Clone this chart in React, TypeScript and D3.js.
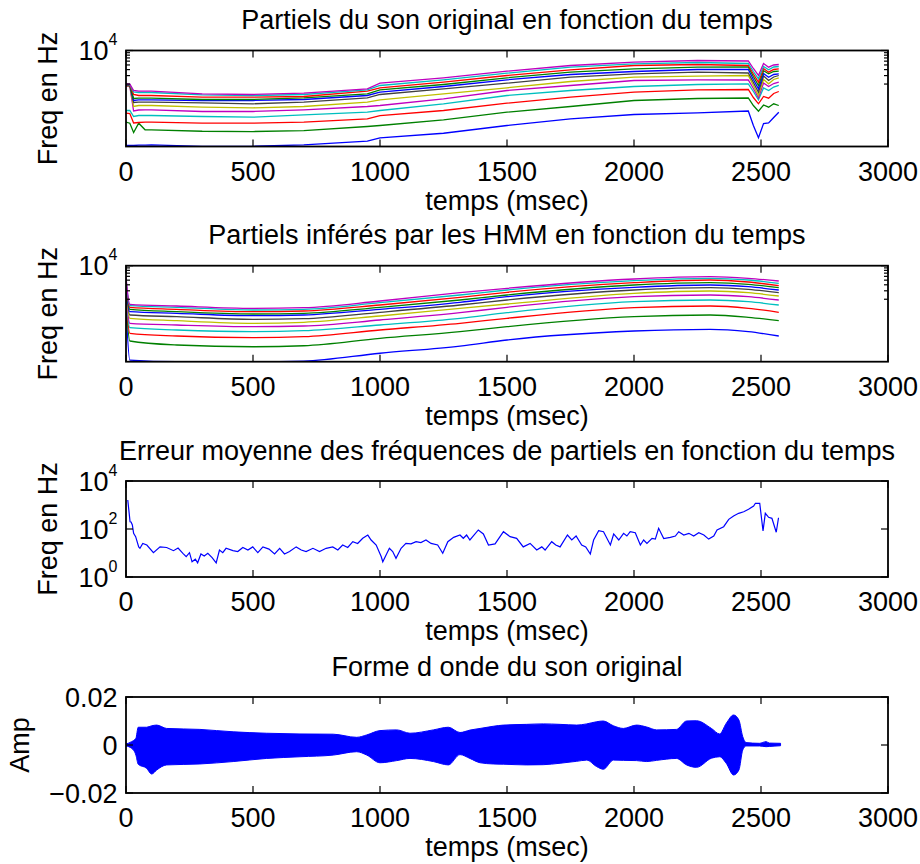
import React, { useEffect, useRef } from "react";
import * as d3 from "d3";

// ---- shared axes ----
const X_TICKS = [0, 500, 1000, 1500, 2000, 2500, 3000];
const FREQ_MINOR_TICKS = [2000, 3000, 4000, 5000, 6000, 7000, 8000, 9000];
const ERR_MAJOR_TICKS = [1, 100, 10000];
const AMP_TICKS = [-0.02, 0, 0.02];
const AMP_TICK_LABELS = ["\u22120.02", "0", "0.02"];

const TITLES = [
  "Partiels du son original en fonction du temps",
  "Partiels inférés par les HMM en fonction du temps",
  "Erreur moyenne des fréquences de partiels en fonction du temps",
  "Forme d onde du son original",
];
const Y_LABELS = ["Freq en Hz", "Freq en Hz", "Freq en Hz", "Amp"];
const X_LABEL = "temps (msec)";

// matlab default colour order
const LINE_COLORS = ["#0000ff", "#008000", "#ff0000", "#00bfbf", "#bf00bf", "#bfbf00", "#404040"];

// ---- panel 1 : partials of the original sound (Hz) ----
const T_ORIG = [0, 15, 30, 50, 75, 100, 300, 500, 700, 950, 1000, 1250, 1500, 1750, 2000, 2250, 2450, 2470, 2490, 2510, 2530, 2550, 2570];
const ORIG_1 = [105, 105, 105, 107, 107, 108, 101, 101, 108, 129, 152, 189, 274, 378, 464, 504, 549, 274, 152, 301, 309, 402, 518];
const ORIG_2 = [321, 306, 196, 306, 223, 223, 208, 205, 215, 261, 274, 360, 518, 681, 909, 1000, 1024, 715, 544, 732, 659, 776, 715];
const ORIG_3 = [494, 487, 309, 316, 321, 321, 306, 306, 321, 378, 442, 562, 798, 1064, 1353, 1518, 1540, 1049, 776, 1101, 1015, 1271, 1399];
const ORIG_4 = [562, 562, 422, 442, 442, 442, 422, 408, 458, 518, 562, 776, 1155, 1468, 1778, 1957, 2024, 1399, 940, 1655, 1468, 1736, 1866];
const ORIG_5 = [1821, 1778, 549, 576, 582, 582, 536, 536, 582, 681, 715, 986, 1468, 1866, 2371, 2452, 2429, 1616, 1034, 2104, 1778, 2054, 2185];
const ORIG_6 = [1866, 1821, 681, 715, 715, 715, 659, 640, 681, 837, 940, 1253, 1671, 2260, 2778, 2915, 3014, 1866, 1155, 2488, 2024, 2488, 2699];
const ORIG_7 = [1884, 1866, 825, 837, 837, 837, 814, 776, 837, 1034, 1212, 1593, 2084, 2778, 3270, 3532, 3399, 2154, 1353, 2943, 2371, 2805, 3014];
const ORIG_8 = [1911, 1893, 909, 940, 940, 940, 909, 909, 953, 1155, 1353, 1778, 2452, 3162, 3652, 4019, 4019, 2488, 1593, 3318, 2778, 3162, 3270];
const ORIG_9 = [1940, 1911, 1000, 1015, 1015, 1015, 953, 953, 1034, 1253, 1518, 1957, 2699, 3532, 4156, 4488, 4532, 2873, 1866, 3777, 3270, 3652, 3705];
const ORIG_10 = [1957, 1940, 1212, 1155, 1155, 1155, 1064, 1064, 1101, 1419, 1671, 2185, 3014, 3962, 4870, 5109, 4870, 3239, 2185, 4217, 3532, 4019, 4156];
const ORIG_11 = [1976, 1957, 1366, 1334, 1334, 1334, 1195, 1155, 1212, 1518, 1866, 2452, 3366, 4488, 5284, 5623, 5360, 3652, 2573, 4642, 3962, 4532, 4642];
const ORIG_12 = [2005, 1985, 1468, 1419, 1419, 1419, 1253, 1212, 1289, 1593, 2084, 2699, 3705, 4870, 5705, 6190, 6043, 4217, 3014, 5360, 4488, 4988, 5109];
const ORIG = [ORIG_1, ORIG_2, ORIG_3, ORIG_4, ORIG_5, ORIG_6, ORIG_7, ORIG_8, ORIG_9, ORIG_10, ORIG_11, ORIG_12];

// ---- panel 2 : partials inferred by the HMM (Hz) ----
const T_HMM = [0, 15, 200, 500, 700, 1000, 1315, 1500, 2000, 2300, 2450, 2570];
const HMM_1 = [1380, 108, 100, 100, 103, 150, 212, 283, 436, 473, 422, 343];
const HMM_2 = [1753, 270, 223, 205, 215, 307, 422, 536, 866, 940, 841, 715];
const HMM_3 = [2124, 391, 343, 316, 332, 458, 631, 802, 1334, 1447, 1296, 1069];
const HMM_4 = [2452, 511, 458, 422, 442, 582, 802, 1049, 1778, 1930, 1778, 1518];
const HMM_5 = [2832, 631, 582, 536, 554, 739, 1049, 1360, 2260, 2452, 2260, 1930];
const HMM_6 = [3270, 802, 715, 631, 662, 896, 1296, 1593, 2661, 2971, 2738, 2337];
const HMM_7 = [3600, 940, 866, 764, 787, 1069, 1518, 1930, 3117, 3481, 3223, 2738];
const HMM_8 = [3962, 1101, 1019, 909, 940, 1236, 1728, 2260, 3549, 3962, 3652, 3117];
const HMM_9 = [4361, 1236, 1101, 986, 1019, 1360, 1930, 2452, 3962, 4424, 4097, 3481];
const HMM_10 = [4801, 1360, 1236, 1101, 1139, 1518, 2196, 2791, 4424, 5037, 4575, 3831];
const HMM_11 = [5284, 1468, 1360, 1195, 1236, 1695, 2452, 3117, 4870, 5464, 5037, 4299];
const HMM_12 = [5815, 1571, 1447, 1296, 1334, 1839, 2738, 3382, 5284, 5900, 5464, 4801];
const HMM = [HMM_1, HMM_2, HMM_3, HMM_4, HMM_5, HMM_6, HMM_7, HMM_8, HMM_9, HMM_10, HMM_11, HMM_12];

// ---- panel 3 : mean error [t, Hz] ----
const ERR_POINTS: [number, number][] = [
  [7, 1620], [16, 200], [20, 195], [25, 147], [30, 66], [38, 48], [50, 18], [55, 15.7], [66, 25], [82, 21.5],
  [108, 10.3], [134, 18], [160, 17], [187, 12.5], [205, 16], [224, 9.7], [237, 7], [250, 10.3], [260, 4.3], [273, 5.5],
  [282, 3.9], [295, 9.1], [308, 7.5], [322, 9.7], [339, 6.4], [355, 3.9], [368, 13.3], [381, 10.3], [394, 15.7], [421, 12.5],
  [440, 11.5], [460, 17], [480, 13.3], [499, 18], [519, 10.3], [539, 18], [563, 14.5], [585, 9.1], [605, 15.7], [624, 9.1],
  [644, 11.5], [670, 18], [690, 13.3], [709, 11.5], [736, 15.7], [762, 11.5], [788, 15.7], [814, 18], [834, 13.3], [853, 21.5],
  [873, 17], [893, 29.6], [912, 25], [932, 41], [952, 56], [965, 34.8], [985, 21.5], [1005, 7], [1011, 4.3], [1024, 8.2],
  [1037, 15.7], [1050, 11.5], [1063, 6], [1083, 15.7], [1102, 25], [1122, 24], [1142, 29.6], [1161, 27], [1181, 34.8], [1201, 25],
  [1227, 21.5], [1247, 9.7], [1267, 29.6], [1290, 45], [1315, 56], [1328, 41], [1341, 56], [1354, 34.8], [1387, 91], [1407, 62],
  [1427, 21.5], [1453, 24], [1486, 77], [1512, 48], [1538, 41], [1564, 18], [1591, 25], [1617, 13.3], [1637, 18], [1650, 13.3],
  [1676, 29.6], [1692, 21.5], [1709, 18], [1738, 56], [1755, 34.8], [1772, 51], [1794, 21.5], [1810, 18], [1828, 9.1], [1841, 34.8],
  [1861, 85], [1880, 77], [1907, 21.5], [1920, 62], [1940, 34.8], [1959, 66], [1972, 51], [1985, 77], [2005, 70], [2025, 21.5],
  [2038, 34.8], [2051, 25], [2071, 41], [2084, 38], [2097, 107], [2117, 40], [2143, 45], [2163, 51], [2176, 77], [2196, 56],
  [2216, 66], [2235, 51], [2255, 70], [2275, 56], [2294, 38], [2314, 51], [2327, 91], [2353, 125], [2373, 253], [2392, 350],
  [2412, 450], [2432, 525], [2451, 660], [2471, 910], [2478, 1180], [2495, 1180], [2508, 83], [2517, 450], [2530, 306], [2543, 279],
  [2560, 73], [2569, 295],
];

// ---- panel 4 : waveform envelope [t, upper, lower] ----
const WAVE_ENVELOPE: [number, number, number][] = [
  [0, 0.0004, -0.0004], [22, 0.0014, -0.0014], [39, 0.0028, -0.0042], [48, 0.0074, -0.008], [81, 0.0074, -0.0097],
  [101, 0.008, -0.0121], [121, 0.0083, -0.0104], [160, 0.0069, -0.0083], [291, 0.0065, -0.0079], [422, 0.0055, -0.0069],
  [553, 0.0049, -0.0056], [685, 0.0046, -0.0049], [816, 0.0045, -0.0042], [908, 0.0032, -0.0028], [948, 0.0042, -0.0042],
  [1000, 0.006, -0.0074], [1066, 0.0063, -0.0065], [1118, 0.0049, -0.0056], [1210, 0.0063, -0.0069], [1269, 0.0074, -0.0083],
  [1315, 0.0052, -0.004], [1354, 0.0062, -0.0056], [1394, 0.0069, -0.0074], [1446, 0.0078, -0.0079], [1486, 0.0083, -0.008],
  [1577, 0.0086, -0.0083], [1643, 0.0088, -0.0082], [1709, 0.0086, -0.0076], [1774, 0.0083, -0.0068], [1814, 0.0088, -0.0063],
  [1853, 0.0097, -0.009], [1879, 0.01, -0.0101], [1919, 0.008, -0.0063], [1958, 0.0069, -0.0064], [2010, 0.0083, -0.0065],
  [2050, 0.0075, -0.0069], [2089, 0.0063, -0.0064], [2167, 0.0065, -0.0056], [2207, 0.01, -0.0083], [2246, 0.0101, -0.0093],
  [2305, 0.0069, -0.0055], [2337, 0.0046, -0.0049], [2363, 0.009, -0.0076], [2392, 0.0125, -0.0125], [2413, 0.0104, -0.0104],
  [2428, 0.0035, -0.0021], [2441, 0.001, -0.0004], [2494, 0.0007, -0.0004], [2520, 0.0014, -0.0007], [2533, 0.0008, -0.0006],
  [2577, 0.0007, -0.0003],
];

const FONT = '"Liberation Sans", Arial, Helvetica, sans-serif';
const X_LEFT = 126;
const X_RIGHT = 888;
const PANEL_H = 96;
const PANEL_TOPS = [50.5, 265.7, 481, 697];

const App = () => {
  const svgRef = useRef<SVGSVGElement>(null);

  useEffect(() => {
    const svg = d3.select(svgRef.current);
    svg.selectAll("*").remove();
    svg.append("rect").attr("width", 920).attr("height", 864).attr("fill", "#fff");

    const x = d3.scaleLinear().domain([0, 3000]).range([X_LEFT, X_RIGHT]);

    const addText = (sel: any, tx: number, ty: number, txt: string, anchor = "middle", size = 27) =>
      sel
        .append("text")
        .attr("x", tx)
        .attr("y", ty)
        .attr("text-anchor", anchor)
        .style("font-family", FONT)
        .style("font-size", size + "px")
        .attr("fill", "#000")
        .text(txt);

    // power of ten label, e.g. 10^4
    const addPow = (sel: any, ty: number, exp: number) => {
      const t = sel
        .append("text")
        .attr("x", 117.5)
        .attr("y", ty + 9.5)
        .attr("text-anchor", "end")
        .style("font-family", FONT)
        .style("font-size", "27px");
      t.append("tspan").text("10");
      t.append("tspan").attr("dy", -15).style("font-size", "16px").text(String(exp));
    };

    const frame = (i: number, y: any, yMajor: number[], yMinor: number[]) => {
      const top = PANEL_TOPS[i];
      const bottom = top + PANEL_H;
      const g = svg.append("g");

      // x ticks (inside, top and bottom)
      X_TICKS.forEach((v) => {
        const px = x(v);
        g.append("line").attr("x1", px).attr("x2", px).attr("y1", bottom).attr("y2", bottom - 7);
        g.append("line").attr("x1", px).attr("x2", px).attr("y1", top).attr("y2", top + 7);
        addText(svg, px, bottom + 34, String(v));
      });
      yMajor.forEach((v) => {
        const py = y(v);
        g.append("line").attr("x1", X_LEFT).attr("x2", X_LEFT + 7).attr("y1", py).attr("y2", py);
        g.append("line").attr("x1", X_RIGHT).attr("x2", X_RIGHT - 7).attr("y1", py).attr("y2", py);
      });
      yMinor.forEach((v) => {
        const py = y(v);
        g.append("line").attr("x1", X_LEFT).attr("x2", X_LEFT + 4).attr("y1", py).attr("y2", py);
        g.append("line").attr("x1", X_RIGHT).attr("x2", X_RIGHT - 4).attr("y1", py).attr("y2", py);
      });
      g.selectAll("line").attr("stroke", "#000").attr("stroke-width", 1.2);

      g.append("rect")
        .attr("x", X_LEFT)
        .attr("y", top)
        .attr("width", X_RIGHT - X_LEFT)
        .attr("height", PANEL_H)
        .attr("fill", "none")
        .attr("stroke", "#000")
        .attr("stroke-width", 1.8);

      addText(svg, (X_LEFT + X_RIGHT) / 2, top - 21.5, TITLES[i]);
      addText(svg, (X_LEFT + X_RIGHT) / 2, bottom + 63, X_LABEL);
      const yl = i === 3 ? 29 : 57;
      svg
        .append("text")
        .attr("transform", `translate(${yl},${top + PANEL_H / 2}) rotate(-90)`)
        .attr("text-anchor", "middle")
        .style("font-family", FONT)
        .style("font-size", "27px")
        .text(Y_LABELS[i]);
    };

    const clip = (i: number) => {
      const id = "clip" + i;
      svg
        .append("clipPath")
        .attr("id", id)
        .append("rect")
        .attr("x", X_LEFT)
        .attr("y", PANEL_TOPS[i])
        .attr("width", X_RIGHT - X_LEFT)
        .attr("height", PANEL_H);
      return svg.append("g").attr("clip-path", `url(#${id})`);
    };

    // ---- panels 1 & 2 : partials ----
    const partialPanel = (i: number, times: number[], series: number[][], curve: any) => {
      const y = d3.scaleLog().domain([100, 10000]).range([PANEL_TOPS[i] + PANEL_H, PANEL_TOPS[i]]);
      const g = clip(i);
      series.forEach((vals, k) => {
        const line = d3
          .line<number>()
          .x((_, j) => x(times[j]))
          .y((d) => y(d))
          .curve(curve);
        g.append("path")
          .attr("d", line(vals))
          .attr("fill", "none")
          .attr("stroke", LINE_COLORS[k % LINE_COLORS.length])
          .attr("stroke-width", 1.3);
      });
      frame(i, y, [10000], FREQ_MINOR_TICKS);
      addPow(svg, y(10000), 4);
    };
    partialPanel(0, T_ORIG, ORIG, d3.curveLinear);
    partialPanel(1, T_HMM, HMM, d3.curveMonotoneX);

    // ---- panel 3 : mean error ----
    {
      const y = d3.scaleLog().domain([1, 10000]).range([PANEL_TOPS[2] + PANEL_H, PANEL_TOPS[2]]);
      const g = clip(2);
      const line = d3
        .line<[number, number]>()
        .x((d) => x(d[0]))
        .y((d) => y(d[1]));
      g.append("path")
        .attr("d", line(ERR_POINTS))
        .attr("fill", "none")
        .attr("stroke", "#0000ff")
        .attr("stroke-width", 1.2);
      frame(2, y, ERR_MAJOR_TICKS, []);
      ERR_MAJOR_TICKS.forEach((v) => addPow(svg, y(v), Math.round(Math.log10(v))));
    }

    // ---- panel 4 : waveform ----
    {
      const y = d3.scaleLinear().domain([-0.02, 0.02]).range([PANEL_TOPS[3] + PANEL_H, PANEL_TOPS[3]]);
      const g = clip(3);
      const area = d3
        .area<[number, number, number]>()
        .x((d) => x(d[0]))
        .y0((d) => y(d[2]))
        .y1((d) => y(d[1]))
        .curve(d3.curveMonotoneX);
      g.append("path")
        .attr("d", area(WAVE_ENVELOPE))
        .attr("fill", "#0000ff")
        .attr("stroke", "#0000ff")
        .attr("stroke-width", 1);
      frame(3, y, AMP_TICKS, []);
      AMP_TICKS.forEach((v, k) => addText(svg, 117.5, y(v) + 9.5, AMP_TICK_LABELS[k], "end"));
    }
  }, []);

  return (
    <svg
      ref={svgRef}
      width={920}
      height={864}
      style={{ position: "absolute", left: 0, top: 0, display: "block" }}
    />
  );
};

export default App;
